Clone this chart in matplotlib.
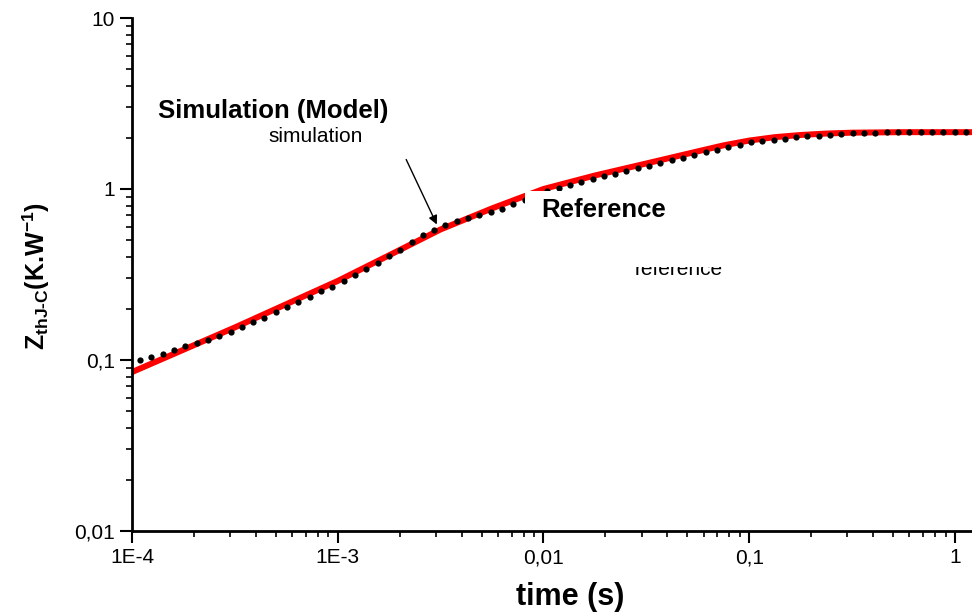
import numpy as np
import matplotlib
matplotlib.use("Agg")
import matplotlib.pyplot as plt
from matplotlib.patches import Rectangle
from matplotlib.ticker import FixedLocator, FixedFormatter, LogLocator, NullFormatter

plt.rcParams['font.family'] = ['Liberation Sans', 'DejaVu Sans']
plt.rcParams['mathtext.fontset'] = 'custom'
plt.rcParams['mathtext.rm'] = 'Liberation Sans'
plt.rcParams['mathtext.it'] = 'Liberation Sans:italic'
plt.rcParams['mathtext.bf'] = 'Liberation Sans:bold'

###################################################
# Data
# model curve (red line)
t_model = [1e-4, 3.16e-4, 1e-3, 1.78e-3, 3.16e-3, 5.62e-3, 1e-2, 1.78e-2,
           3.16e-2, 5.62e-2, 7.5e-2, 0.1, 0.133, 0.178, 0.237, 0.316, 0.562, 1.0, 1.21]
z_model = [0.085, 0.155, 0.29, 0.41, 0.58, 0.77, 1.0, 1.2,
           1.41, 1.66, 1.80, 1.92, 2.01, 2.07, 2.11, 2.135, 2.15, 2.15, 2.15]

# reference measurement (black dots), 74 samples, ~18 per decade
t_ref = np.logspace(-3.961, 0.053, 74)
z_ref = [0.100, 0.104, 0.109, 0.114, 0.120, 0.126, 0.131, 0.138, 0.145, 0.155,
         0.166, 0.177, 0.191, 0.205, 0.219, 0.235, 0.252, 0.269, 0.290, 0.313,
         0.340, 0.369, 0.404, 0.442, 0.487, 0.536, 0.578, 0.620, 0.652, 0.675,
         0.700, 0.730, 0.768, 0.813, 0.862, 0.919, 0.974, 1.014, 1.055, 1.099,
         1.144, 1.186, 1.229, 1.273, 1.319, 1.367, 1.417, 1.468, 1.522, 1.589,
         1.643, 1.699, 1.756, 1.815, 1.871, 1.905, 1.943, 1.973, 2.003, 2.037,
         2.050, 2.076, 2.089, 2.117, 2.134, 2.139, 2.143, 2.148, 2.15, 2.15,
         2.15, 2.15, 2.15, 2.15]

xticks = [1e-4, 1e-3, 1e-2, 1e-1, 1]
xtick_labels = ['1E-4', '1E-3', '0,01', '0,1', '1']
yticks = [0.01, 0.1, 1, 10]
ytick_labels = ['0,01', '0,1', '1', '10']
###################################################
W, H = 972, 614
fig = plt.figure(figsize=(W/100, H/100), dpi=100)
ax = fig.add_axes([132/W, 1 - 531/H, 1 - 132/W, (531 - 18)/H])

ax.plot(t_model, z_model, color='red', lw=4.3, solid_capstyle='butt', zorder=2)
ax.plot(t_ref, z_ref, 'o', color='black', ms=4.5, mec='none', zorder=3)

ax.set_xscale('log')
ax.set_yscale('log')
ax.set_xlim(1e-4, 1.21)
ax.set_ylim(0.01, 10)

ax.spines['top'].set_visible(False)
ax.spines['right'].set_visible(False)
ax.spines['left'].set_linewidth(2)
ax.spines['bottom'].set_linewidth(2)

ax.xaxis.set_major_locator(FixedLocator(xticks))
ax.xaxis.set_major_formatter(FixedFormatter(xtick_labels))
ax.yaxis.set_major_locator(FixedLocator(yticks))
ax.yaxis.set_major_formatter(FixedFormatter(ytick_labels))
for axis in (ax.xaxis, ax.yaxis):
    axis.set_minor_locator(LogLocator(base=10, subs=np.arange(2, 10)))
    axis.set_minor_formatter(NullFormatter())
ax.tick_params(which='major', direction='out', length=8.5, width=1.5, labelsize=15, pad=4)
ax.tick_params(which='minor', direction='out', length=4.5, width=1.2)

ax.set_xlabel('time (s)', fontsize=22, fontweight='bold', va='center')
ax.xaxis.set_label_coords((570 - 132)/840, (531 - 597)/513)
ax.set_ylabel('Z$_{\\mathbf{thJ\u2010C}}$(K.W$^{\\mathbf{-1}}$)',
              fontsize=18, fontweight='bold', va='center')
ax.yaxis.set_label_coords((36 - 132)/840, (531 - 276)/513)

# annotations
fig.text(158/W, 1 - 118/H, 'Simulation (Model)', fontsize=18.5, fontweight='bold', va='baseline')
fig.text(268/W, 1 - 142/H, 'simulation', fontsize=15, va='baseline')
ax.annotate('', xy=(438/W, 1 - 227/H), xytext=(405/W, 1 - 157/H),
            xycoords='figure fraction', textcoords='figure fraction',
            arrowprops=dict(arrowstyle='-|>', color='black', lw=1, mutation_scale=13))

fig.text(635/W, 1 - 275/H, 'reference', fontsize=15, va='baseline', zorder=1)
fig.add_artist(Rectangle((525/W, 1 - 267/H), (772 - 525)/W, (267 - 191)/H,
                         transform=fig.transFigure, facecolor='white', edgecolor='none', zorder=2))
fig.text(541/W, 1 - 217/H, 'Reference', fontsize=18.5, fontweight='bold', va='baseline', zorder=3)

fig.savefig('out.png', dpi=100)
